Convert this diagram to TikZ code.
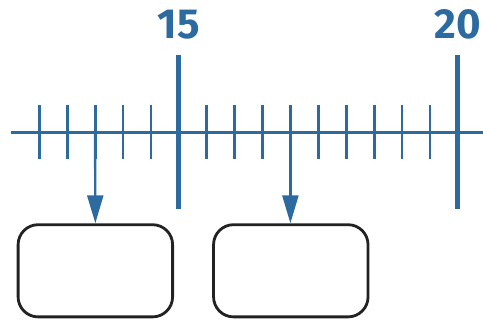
\documentclass[tikz,border=0pt]{standalone}
\usepackage{fontspec}
\setmainfont{Fira Sans}
\usetikzlibrary{arrows.meta}
\definecolor{lineblue}{RGB}{44,106,160}
\definecolor{boxline}{RGB}{34,34,34}
\tikzset{
  axisline/.style={draw=lineblue, line width=2.6pt},
  smalltick/.style={draw=lineblue, line width=2.8pt},
  majortick/.style={draw=lineblue, line width=5pt},
  ticklabel/.style={text=lineblue, font=\bfseries\fontsize{42}{42}\selectfont, anchor=base, inner sep=0pt},
  pointer/.style={draw=lineblue, line width=2.4pt, -{Triangle[length=28pt,width=16pt]}, lineblue},
  answerbox/.style={draw=boxline, line width=2.8pt, rounded corners=20pt, minimum width=154.5pt, minimum height=92.2pt, inner sep=0pt, fill=white}
}
\begin{document}
\begin{tikzpicture}[x=1pt,y=-1pt]
\useasboundingbox (0,0) rectangle (483,320);
% axis
\coordinate (axL) at (11,132.7);
\coordinate (axR) at (483,132.7);
\draw[axisline] (axL) -- (axR);
% small ticks
\foreach \k in {0,1,2,3,4,6,7,8,9,10,11,12,13,14}{
  \draw[smalltick] ({39.3+27.9*\k},105) -- ({39.3+27.9*\k},159);
}
% major ticks
\coordinate (m15) at (178.8,132.7);
\coordinate (m20) at (457.8,132.7);
\draw[majortick] (178.8,55) -- (178.8,209);
\draw[majortick] (457.8,55) -- (457.8,209);
\node[ticklabel] (l15) at (178.8,39) {15};
\node[ticklabel] (l20) at (457.8,39) {20};
% boxes
\node[answerbox] (b1) at (95.35,270.8) {};
\node[answerbox] (b2) at (290.8,270.8) {};
% pointers
\coordinate (p1) at (95.1,132.7);
\coordinate (p2) at (290.4,132.7);
\draw[pointer] (p1) -- (b1.north);
\draw[pointer] (p2) -- (b2.north -| p2);
\end{tikzpicture}
\end{document}
